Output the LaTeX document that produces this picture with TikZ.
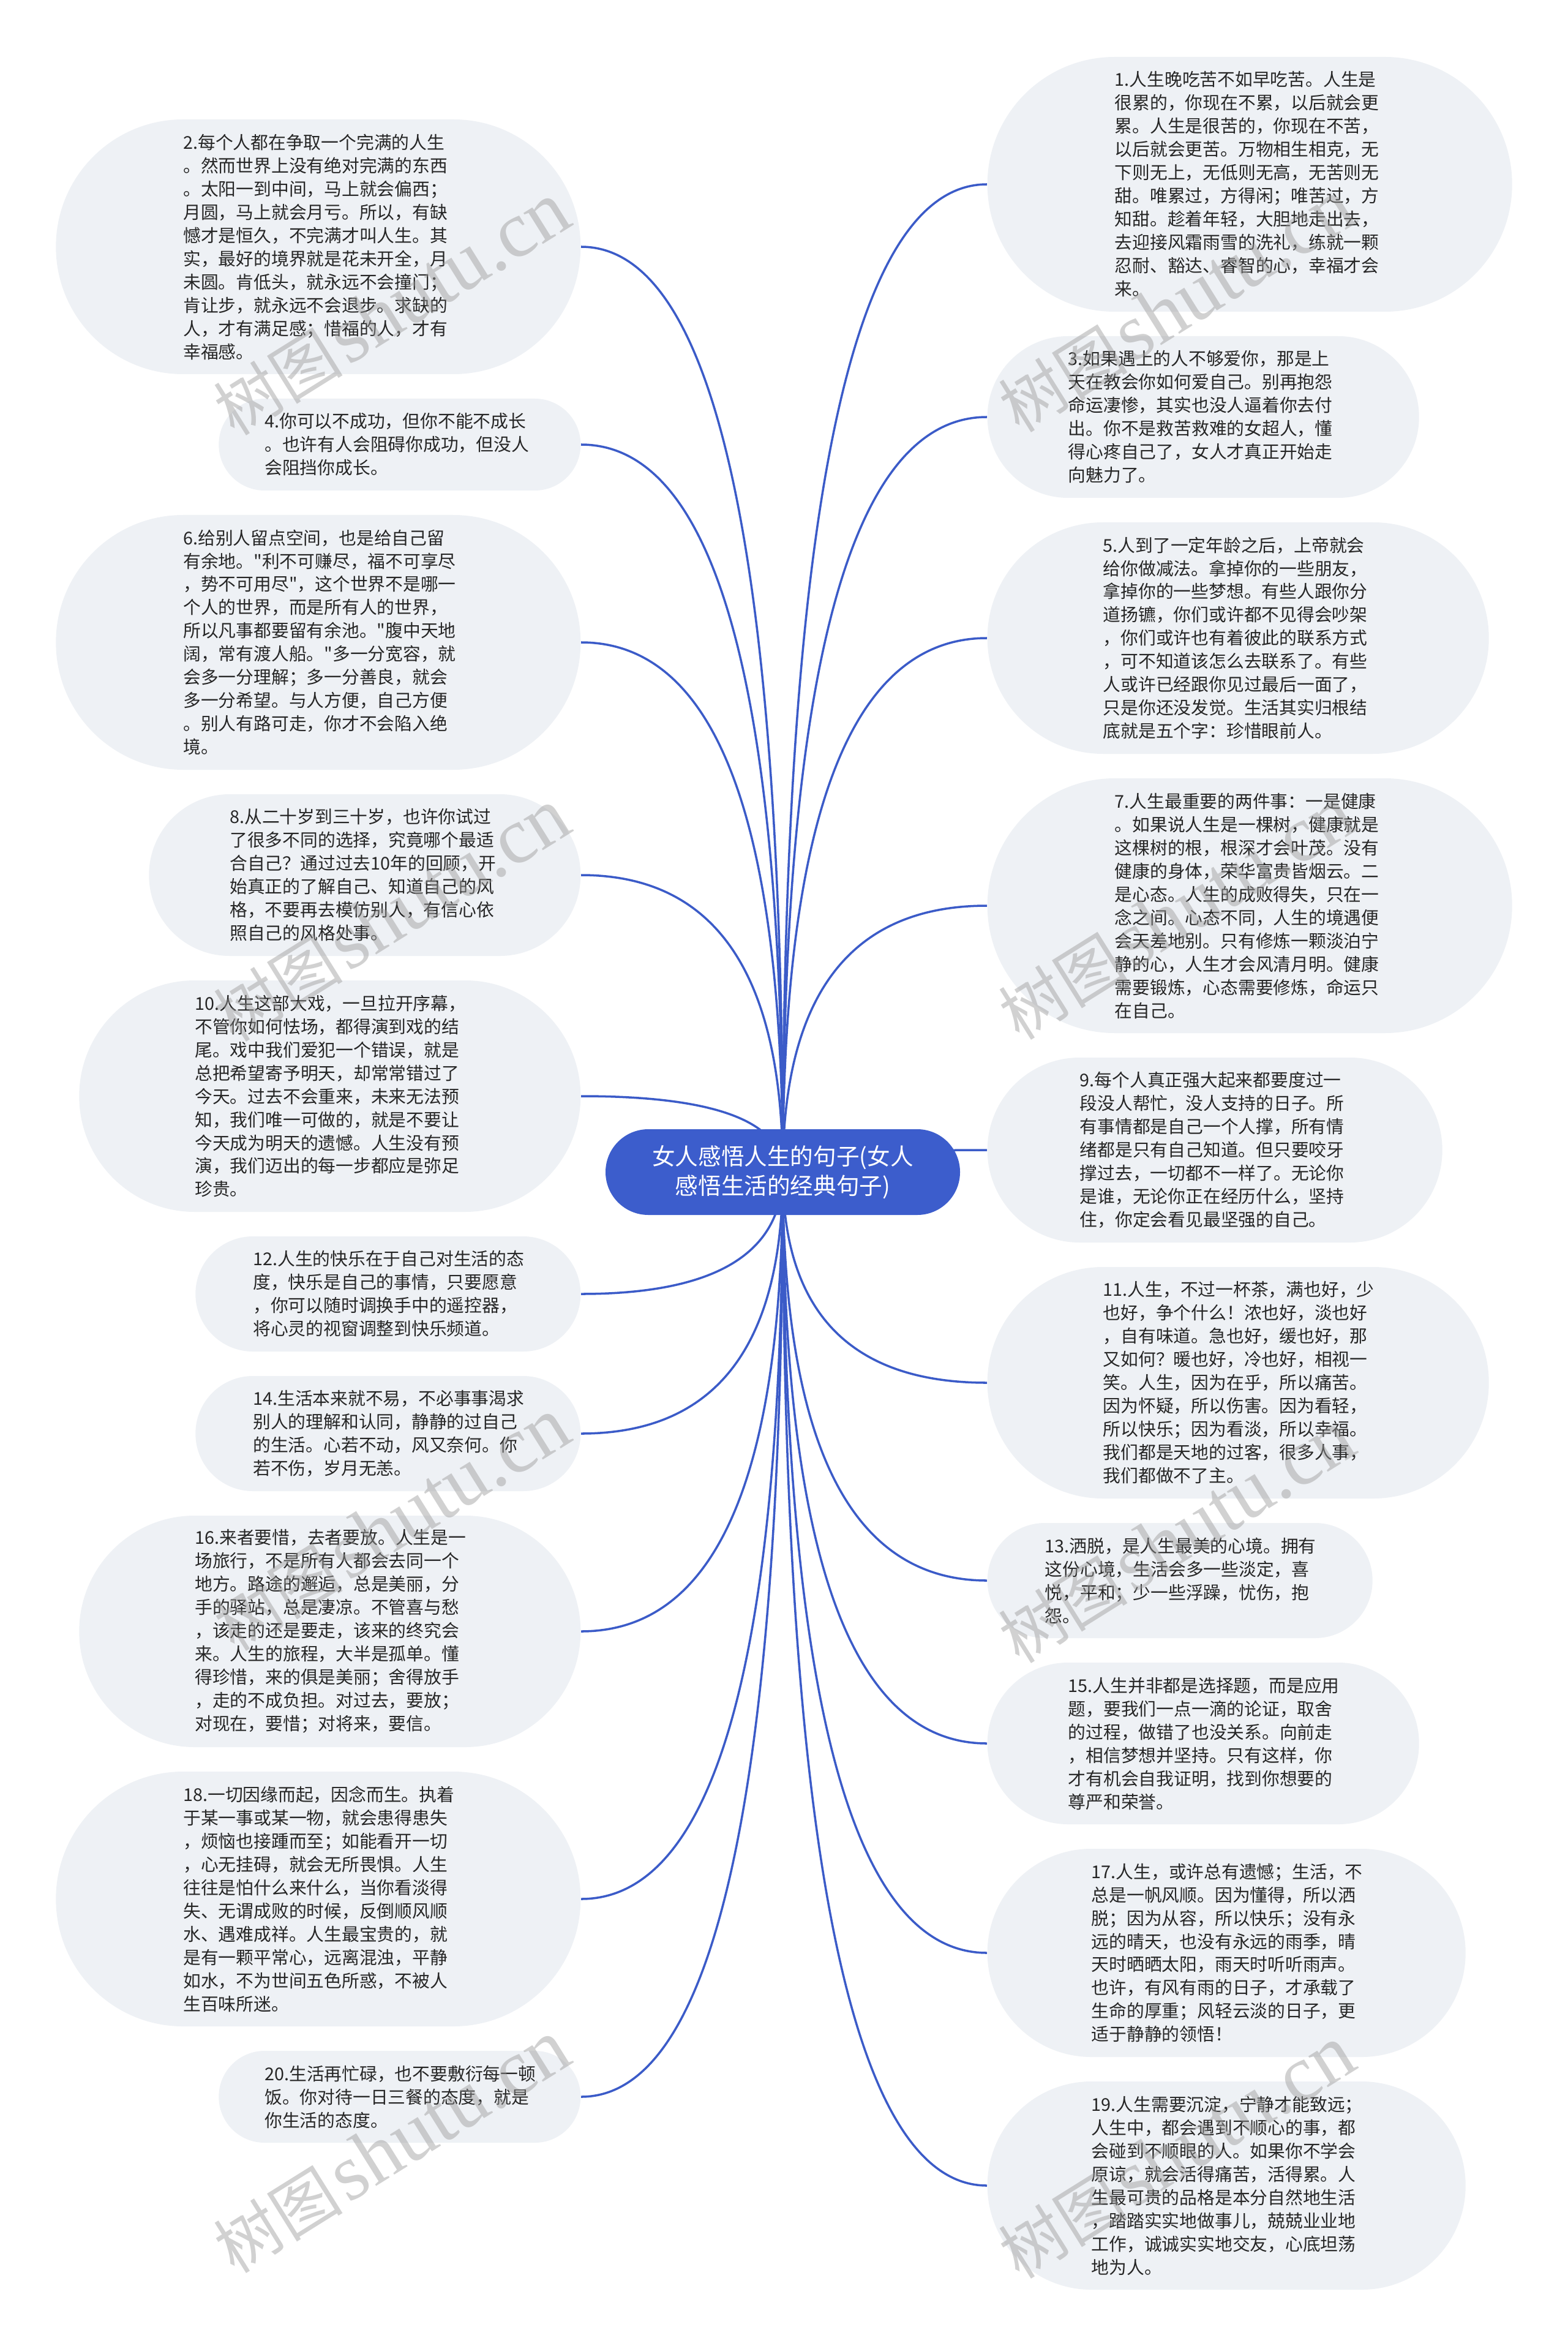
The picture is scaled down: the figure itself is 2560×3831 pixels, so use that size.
\documentclass[tikz,border=0pt]{standalone}
\usepackage{fontspec}
\setmainfont{Noto Sans CJK SC}[Ligatures=TeXOff]
\newfontfamily\wmcjk{Noto Sans CJK SC}
\newfontfamily\wmserif{Liberation Serif}
\usetikzlibrary{calc}
\definecolor{leaffill}{HTML}{EEF1F5}
\definecolor{mainblue}{HTML}{3C5DCC}
\definecolor{linkblue}{HTML}{3B5BC8}
\definecolor{txt}{HTML}{262626}
\definecolor{wmgray}{HTML}{9A9A9A}
\pgfdeclarelayer{bg}
\pgfsetlayers{bg,main}
\newcommand\leaffont{\fontsize{8.19pt}{10.81pt}\selectfont}
\newcommand\ctrfont{\fontsize{10.7pt}{13.8pt}\selectfont}
\newcommand\mlink[2]{%
  \coordinate (k#1) at (ctr.center |- #1.#2);
  \draw[linkline] (ctr.center) .. controls ($(ctr.center)!0.6667!(k#1)$) and ($(#1.#2)!0.6667!(k#1)$) .. (#1.#2);
}
\begin{document}
\begin{tikzpicture}[x=0.1mm,y=-0.1mm,
  leaf/.style={rectangle, fill=leaffill, text=txt, text width=44.1mm, align=left, inner ysep=0pt, font=\leaffont},
  l3/.style={minimum height=15mm, inner xsep=7.5mm, rounded corners=7.49mm},
  l4/.style={minimum height=18.8mm, inner xsep=9.4mm, rounded corners=9.39mm},
  l6/.style={minimum height=26.4mm, inner xsep=13.2mm, rounded corners=13.19mm},
  l7/.style={minimum height=30.2mm, inner xsep=15.1mm, rounded corners=15.09mm},
  l8/.style={minimum height=34mm, inner xsep=17mm, rounded corners=16.99mm},
  l9/.style={minimum height=37.8mm, inner xsep=18.9mm, rounded corners=18.89mm},
  l10/.style={minimum height=41.6mm, inner xsep=20.8mm, rounded corners=20.79mm},
  lside/.style={anchor=east},
  rside/.style={anchor=west},
  ctrnode/.style={rectangle, fill=mainblue, text=white, align=center, minimum width=57.9mm, minimum height=14mm, rounded corners=6.99mm, inner sep=0pt, font=\ctrfont},
  linkline/.style={draw=linkblue, line width=1pt},
  wm/.style={text=wmgray, opacity=0.45, inner sep=0pt, rotate=32}
]
\useasboundingbox (0,0) rectangle (2560,3831);
\begin{pgfonlayer}{bg}
\fill[white] (0,0) rectangle (2560,3831);
\end{pgfonlayer}

\node[ctrnode] (ctr) at (1278.5,1914) {女人感悟人生的句子(女人\\感悟生活的经典句子)};

% left column
\node[leaf,l10,lside] (b2) at (949,403) {2.每个人都在争取一个完满的人生\\。然而世界上没有绝对完满的东西\\。太阳一到中间，马上就会偏西；\\月圆，马上就会月亏。所以，有缺\\憾才是恒久，不完满才叫人生。其\\实，最好的境界就是花未开全，月\\未圆。肯低头，就永远不会撞门；\\肯让步，就永远不会退步。求缺的\\人，才有满足感；惜福的人，才有\\幸福感。};
\node[leaf,l3,lside] (b4) at (949,726) {4.你可以不成功，但你不能不成长\\。也许有人会阻碍你成功，但没人\\会阻挡你成长。};
\node[leaf,l10,lside] (b6) at (949,1049) {6.给别人留点空间，也是给自己留\\有余地。"利不可赚尽，福不可享尽\\，势不可用尽"，这个世界不是哪一\\个人的世界，而是所有人的世界，\\所以凡事都要留有余池。"腹中天地\\阔，常有渡人船。"多一分宽容，就\\会多一分理解；多一分善良，就会\\多一分希望。与人方便，自己方便\\。别人有路可走，你才不会陷入绝\\境。};
\node[leaf,l6,lside] (b8) at (949,1429) {8.从二十岁到三十岁，也许你试过\\了很多不同的选择，究竟哪个最适\\合自己？通过过去10年的回顾，开\\始真正的了解自己、知道自己的风\\格，不要再去模仿别人，有信心依\\照自己的风格处事。};
\node[leaf,l9,lside] (b10) at (949,1790) {10.人生这部大戏，一旦拉开序幕，\\不管你如何怯场，都得演到戏的结\\尾。戏中我们爱犯一个错误，就是\\总把希望寄予明天，却常常错过了\\今天。过去不会重来，未来无法预\\知，我们唯一可做的，就是不要让\\今天成为明天的遗憾。人生没有预\\演，我们迈出的每一步都应是弥足\\珍贵。};
\node[leaf,l4,lside] (b12) at (949,2113) {12.人生的快乐在于自己对生活的态\\度，快乐是自己的事情，只要愿意\\，你可以随时调换手中的遥控器，\\将心灵的视窗调整到快乐频道。};
\node[leaf,l4,lside] (b14) at (949,2341) {14.生活本来就不易，不必事事渴求\\别人的理解和认同，静静的过自己\\的生活。心若不动，风又奈何。你\\若不伤，岁月无恙。};
\node[leaf,l9,lside] (b16) at (949,2664) {16.来者要惜，去者要放。人生是一\\场旅行，不是所有人都会去同一个\\地方。路途的邂逅，总是美丽，分\\手的驿站，总是凄凉。不管喜与愁\\，该走的还是要走，该来的终究会\\来。人生的旅程，大半是孤单。懂\\得珍惜，来的俱是美丽；舍得放手\\，走的不成负担。对过去，要放；\\对现在，要惜；对将来，要信。};
\node[leaf,l10,lside] (b18) at (949,3101) {18.一切因缘而起，因念而生。执着\\于某一事或某一物，就会患得患失\\，烦恼也接踵而至；如能看开一切\\，心无挂碍，就会无所畏惧。人生\\往往是怕什么来什么，当你看淡得\\失、无谓成败的时候，反倒顺风顺\\水、遇难成祥。人生最宝贵的，就\\是有一颗平常心，远离混浊，平静\\如水，不为世间五色所惑，不被人\\生百味所迷。};
\node[leaf,l3,lside] (b20) at (949,3424) {20.生活再忙碌，也不要敷衍每一顿\\饭。你对待一日三餐的态度，就是\\你生活的态度。};

% right column
\node[leaf,l10,rside] (b1) at (1612,301) {1.人生晚吃苦不如早吃苦。人生是\\很累的，你现在不累，以后就会更\\累。人生是很苦的，你现在不苦，\\以后就会更苦。万物相生相克，无\\下则无上，无低则无高，无苦则无\\甜。唯累过，方得闲；唯苦过，方\\知甜。趁着年轻，大胆地走出去，\\去迎接风霜雨雪的洗礼，练就一颗\\忍耐、豁达、睿智的心，幸福才会\\来。};
\node[leaf,l6,rside] (b3) at (1612,681) {3.如果遇上的人不够爱你，那是上\\天在教会你如何爱自己。别再抱怨\\命运凄惨，其实也没人逼着你去付\\出。你不是救苦救难的女超人，懂\\得心疼自己了，女人才真正开始走\\向魅力了。};
\node[leaf,l9,rside] (b5) at (1612,1042) {5.人到了一定年龄之后，上帝就会\\给你做减法。拿掉你的一些朋友，\\拿掉你的一些梦想。有些人跟你分\\道扬镳，你们或许都不见得会吵架\\，你们或许也有着彼此的联系方式\\，可不知道该怎么去联系了。有些\\人或许已经跟你见过最后一面了，\\只是你还没发觉。生活其实归根结\\底就是五个字：珍惜眼前人。};
\node[leaf,l10,rside] (b7) at (1612,1479) {7.人生最重要的两件事：一是健康\\。如果说人生是一棵树，健康就是\\这棵树的根，根深才会叶茂。没有\\健康的身体，荣华富贵皆烟云。二\\是心态。人生的成败得失，只在一\\念之间。心态不同，人生的境遇便\\会天差地别。只有修炼一颗淡泊宁\\静的心，人生才会风清月明。健康\\需要锻炼，心态需要修炼，命运只\\在自己。};
\node[leaf,l7,rside] (b9) at (1612,1878) {9.每个人真正强大起来都要度过一\\段没人帮忙，没人支持的日子。所\\有事情都是自己一个人撑，所有情\\绪都是只有自己知道。但只要咬牙\\撑过去，一切都不一样了。无论你\\是谁，无论你正在经历什么，坚持\\住，你定会看见最坚强的自己。};
\node[leaf,l9,rside] (b11) at (1612,2258) {11.人生，不过一杯茶，满也好，少\\也好，争个什么！浓也好，淡也好\\，自有味道。急也好，缓也好，那\\又如何？暖也好，冷也好，相视一\\笑。人生，因为在乎，所以痛苦。\\因为怀疑，所以伤害。因为看轻，\\所以快乐；因为看淡，所以幸福。\\我们都是天地的过客，很多人事，\\我们都做不了主。};
\node[leaf,l4,rside] (b13) at (1612,2581) {13.洒脱，是人生最美的心境。拥有\\这份心境，生活会多一些淡定，喜\\悦，平和；少一些浮躁，忧伤，抱\\怨。};
\node[leaf,l6,rside] (b15) at (1612,2847) {15.人生并非都是选择题，而是应用\\题，要我们一点一滴的论证，取舍\\的过程，做错了也没关系。向前走\\，相信梦想并坚持。只有这样，你\\才有机会自我证明，找到你想要的\\尊严和荣誉。};
\node[leaf,l8,rside] (b17) at (1612,3189) {17.人生，或许总有遗憾；生活，不\\总是一帆风顺。因为懂得，所以洒\\脱；因为从容，所以快乐；没有永\\远的晴天，也没有永远的雨季，晴\\天时晒晒太阳，雨天时听听雨声。\\也许，有风有雨的日子，才承载了\\生命的厚重；风轻云淡的日子，更\\适于静静的领悟！};
\node[leaf,l8,rside] (b19) at (1612,3569) {19.人生需要沉淀，宁静才能致远；\\人生中，都会遇到不顺心的事，都\\会碰到不顺眼的人。如果你不学会\\原谅，就会活得痛苦，活得累。人\\生最可贵的品格是本分自然地生活\\，踏踏实实地做事儿，兢兢业业地\\工作，诚诚实实地交友，心底坦荡\\地为人。};

\begin{pgfonlayer}{bg}
\foreach \n in {b2,b4,b6,b8,b10,b12,b14,b16,b18,b20} {\mlink{\n}{east}}
\foreach \n in {b1,b3,b5,b7,b9,b11,b13,b15,b17,b19} {\mlink{\n}{west}}
\end{pgfonlayer}

% watermark
\foreach \wx/\wy [count=\i] in {640/505, 1922/500, 640/1495, 1922/1492, 640/2490, 1922/2510, 640/3506, 1922/3515} {
  \node[wm] (wm\i) at (\wx,\wy) {{\wmcjk\fontsize{30pt}{30pt}\selectfont 树图} {\wmserif\fontsize{37pt}{37pt}\selectfont shutu.cn}};
}
\end{tikzpicture}
\end{document}
